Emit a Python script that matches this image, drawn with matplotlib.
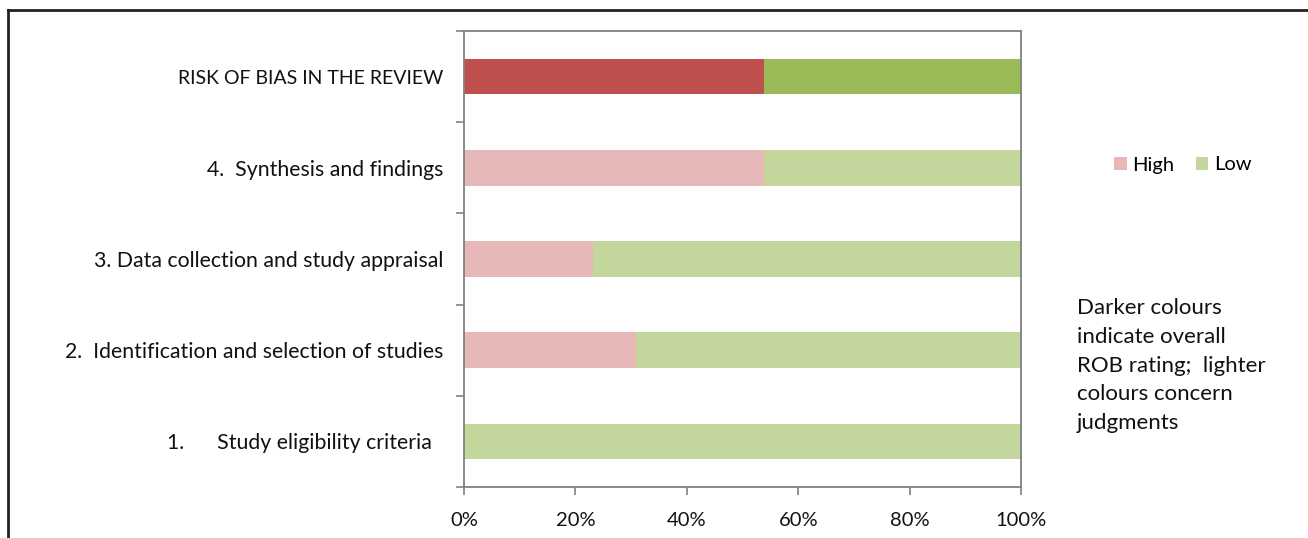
import matplotlib
matplotlib.use("Agg")
import matplotlib.pyplot as plt
from matplotlib.patches import Patch
from matplotlib.lines import Line2D
from matplotlib.ticker import FixedLocator, FuncFormatter

plt.rcParams['font.family'] = ['Lato', 'DejaVu Sans']

categories = [
    "1.      Study eligibility criteria  ",
    "2.  Identification and selection of studies",
    "3. Data collection and study appraisal",
    "4.  Synthesis and findings",
    "RISK OF BIAS IN THE REVIEW",
]
high = [0.0, 30.8, 23.1, 53.8, 53.8]
low = [100.0, 69.2, 76.9, 46.2, 46.2]
xticks = [0, 20, 40, 60, 80, 100]

light_high = "#E6B9B8"
light_low = "#C3D69B"
dark_high = "#C0504D"
dark_low = "#9BBB59"

high_colors = [light_high] * 4 + [dark_high]
low_colors = [light_low] * 4 + [dark_low]

fig = plt.figure(figsize=(13.08, 5.38), dpi=100)
ax = fig.add_axes([464/1308, 1 - 487/538, (1021-464)/1308, (487-31)/538])

ypos = list(range(len(categories)))
ax.barh(ypos, high, height=0.39, color=high_colors, edgecolor='none')
ax.barh(ypos, low, left=high, height=0.39, color=low_colors, edgecolor='none')

ax.set_xlim(0, 100)
ax.set_ylim(-0.5, len(categories) - 0.5)
ax.set_xticks(xticks)
ax.xaxis.set_major_formatter(FuncFormatter(lambda v, p: f"{int(v)}%"))
ax.set_yticks(ypos)
ax.set_yticklabels(categories)
for lbl in ax.get_yticklabels():
    lbl.set_fontsize(14 if lbl.get_text().isupper() else 15.3)
ax.yaxis.set_minor_locator(FixedLocator([i - 0.5 for i in range(len(categories) + 1)]))
ax.tick_params(axis='y', which='major', length=0, pad=15, colors='#111111')
ax.tick_params(axis='y', which='minor', length=6, color='#808080', width=1.2)
ax.tick_params(axis='x', which='major', length=6, color='#808080', width=1.2,
               labelsize=14.5, labelcolor='#111111', pad=12)
for s in ax.spines.values():
    s.set_color('#808080')
    s.set_linewidth(1.3)

handles = [Patch(facecolor=light_high, edgecolor='none', label='High'),
           Patch(facecolor=light_low, edgecolor='none', label='Low')]
fig.legend(handles=handles, loc='center', bbox_to_anchor=(1183/1308, 1 - 165/538),
           ncol=2, frameon=False, fontsize=14.5, handlelength=0.6, handleheight=0.6,
           handletextpad=0.3, columnspacing=1.05)

note = "Darker colours\nindicate overall\nROB rating;  lighter\ncolours concern\njudgments"
fig.text(1077/1308, 1 - 298/538, note, ha='left', va='top', fontsize=16,
         linespacing=1.55, color='#111111')

# outer frame (left and top edges)
fig.add_artist(Line2D([8/1308, 8/1308], [0, 1 - 10/538], transform=fig.transFigure,
                      color='#222222', lw=2))
fig.add_artist(Line2D([8/1308, 1], [1 - 10/538, 1 - 10/538], transform=fig.transFigure,
                      color='#222222', lw=2))

fig.savefig("out.png", dpi=100, facecolor='white')
